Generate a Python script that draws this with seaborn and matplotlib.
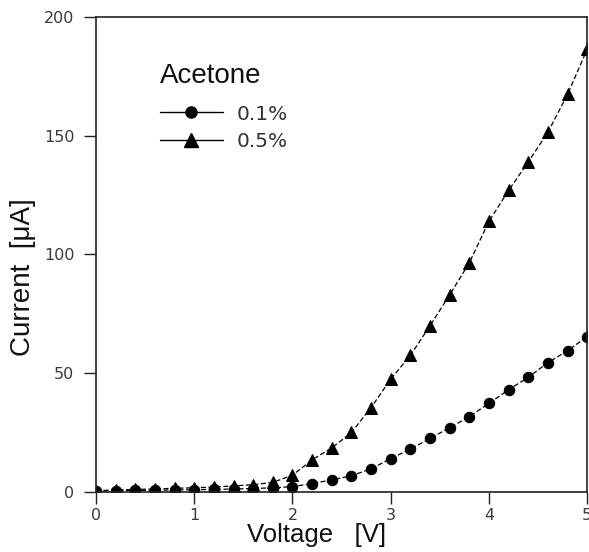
import matplotlib
matplotlib.use("Agg")
import matplotlib.pyplot as plt
from matplotlib.lines import Line2D
import seaborn as sns
import pandas as pd

voltage = [0.0, 0.2, 0.4, 0.6, 0.8, 1.0, 1.2, 1.4, 1.6, 1.8, 2.0, 2.2, 2.4,
           2.6, 2.8, 3.0, 3.2, 3.4, 3.6, 3.8, 4.0, 4.2, 4.4, 4.6, 4.8, 5.0]
current_01 = [0.3, 0.5, 0.6, 0.7, 0.8, 0.9, 1.0, 1.2, 1.4, 1.7, 2.2, 3.5, 5.0,
              6.8, 9.7, 14.0, 18.0, 22.5, 27.0, 31.7, 37.3, 43.0, 48.3, 54.4, 59.5, 65.4]
current_05 = [0.5, 0.8, 1.0, 1.2, 1.5, 1.7, 2.0, 2.5, 3.0, 4.0, 7.0, 13.5, 18.5,
              25.0, 35.5, 47.5, 57.5, 70.0, 83.0, 96.5, 114.0, 127.0, 139.0, 151.5, 167.5, 186.5]
series_labels = ["0.1%", "0.5%"]
legend_title = "Acetone"
x_ticks = [0, 1, 2, 3, 4, 5]
y_ticks = [0, 50, 100, 150, 200]

sns.set_theme(style="white")
plt.rcParams['font.family'] = ['Liberation Sans', 'DejaVu Sans']

df = pd.DataFrame({
    "Voltage": voltage * 2,
    "Current": current_01 + current_05,
    "Series": [series_labels[0]] * len(voltage) + [series_labels[1]] * len(voltage),
})

fig = plt.figure(figsize=(5.89, 5.52), dpi=100)
ax = fig.add_axes([0.163, 0.109, 0.834, 0.860])

markers = {"0.1%": "o", "0.5%": "^"}
sizes = {"0.1%": 7.5, "0.5%": 9}
for lab in series_labels:
    sub = df[df["Series"] == lab]
    sns.lineplot(data=sub, x="Voltage", y="Current", ax=ax, color="black",
                 linewidth=0.9, linestyle=(0, (4, 2)), marker=markers[lab],
                 markersize=sizes[lab], markeredgecolor="black",
                 markerfacecolor="black", legend=False)

ax.set_xlim(0, 5)
ax.set_ylim(0, 200)
ax.set_xticks(x_ticks)
ax.set_yticks(y_ticks)
ax.tick_params(axis="both", direction="out", length=8.5, width=1, color="#222222",
               labelcolor="#3a3a3a", left=True, bottom=True)
ax.tick_params(axis="y", pad=7)
ax.tick_params(axis="x", pad=3.5)
for lbl in ax.get_xticklabels() + ax.get_yticklabels():
    lbl.set_fontfamily("DejaVu Sans")
    lbl.set_fontsize(11.5)
for s in ax.spines.values():
    s.set_color("#222222")
    s.set_linewidth(1.2)

ax.set_xlabel("Voltage   [V]", fontsize=18.5, color="#111111")
ax.set_ylabel("Current  [\u03bcA]", fontsize=20, color="#111111")
ax.xaxis.set_label_coords(0.45, -0.066)
ax.yaxis.set_label_coords(-0.122, 0.453)

handles = [
    Line2D([], [], color="black", linewidth=1.0, marker="o", markersize=8),
    Line2D([], [], color="black", linewidth=1.0, marker="^", markersize=9.5),
]
leg = ax.legend(handles, series_labels, title=legend_title, frameon=False,
                loc="upper left", bbox_to_anchor=(0.11, 0.924), borderpad=0,
                prop={"family": "DejaVu Sans", "size": 14.5},
                title_fontsize=20, handlelength=3.1, handletextpad=0.7,
                labelspacing=0.4)
leg._legend_box.align = "left"
leg._legend_box.sep = 11
leg.get_title().set_color("#111111")
for t in leg.get_texts():
    t.set_color("#333333")

fig.savefig("out.png", dpi=100)
